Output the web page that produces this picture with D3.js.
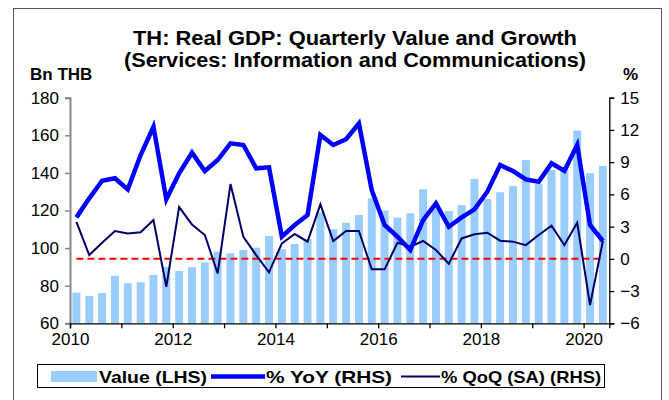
<!DOCTYPE html>
<html><head><meta charset="utf-8">
<script src="https://cdn.jsdelivr.net/npm/d3@7"></script>
<style>
html,body{margin:0;padding:0;background:#fff;}
svg{display:block;font-family:"Liberation Sans",Arial,sans-serif;}
</style></head>
<body><svg id="c" width="669" height="400"></svg>
<script>
const quarters = ["2010Q1","2010Q2","2010Q3","2010Q4","2011Q1","2011Q2","2011Q3","2011Q4",
"2012Q1","2012Q2","2012Q3","2012Q4","2013Q1","2013Q2","2013Q3","2013Q4",
"2014Q1","2014Q2","2014Q3","2014Q4","2015Q1","2015Q2","2015Q3","2015Q4",
"2016Q1","2016Q2","2016Q3","2016Q4","2017Q1","2017Q2","2017Q3","2017Q4",
"2018Q1","2018Q2","2018Q3","2018Q4","2019Q1","2019Q2","2019Q3","2019Q4",
"2020Q1","2020Q2"];
const valueLHS = [76.3,74.5,76.1,85.3,81.3,81.8,85.7,90,87.8,89.8,
92.4,98.1,97.2,99,100.2,106.4,99.4,102.2,104.7,119,
110,113.5,117.6,126.5,120,116.2,118.5,131.3,121,119.7,
122.9,136.8,126.1,129.7,133.1,146.9,134,141.5,143,162.5,
139.8,143.7];
const yoyRHS = [3.86,5.63,7.27,7.5,6.47,9.66,12.3,5.54,7.96,9.88,
8.17,9.2,10.75,10.6,8.43,8.52,2.06,3.15,4.08,11.53,
10.6,11.13,12.6,6.4,3.15,2.06,0.82,3.61,5.17,2.99,
3.86,4.6,6.25,8.73,8.17,7.4,7.18,8.89,8.2,10.6,
3.15,1.66];
const qoqRHS = [3.45,0.35,1.5,2.59,2.37,2.47,3.62,-2.6,4.82,3.2,
2.22,-1.35,6.96,2.06,0.35,-1.26,1.44,2.31,1.6,5.07,
1.66,2.59,2.59,-0.98,-0.98,1.5,1.13,1.66,0.82,-0.45,
1.9,2.28,2.43,1.69,1.6,1.28,2.22,3.08,1.28,3.36,
-4.3,1.66];
const leftTicks = [60,80,100,120,140,160,180];
const rightTicks = [-6,-3,0,3,6,9,12,15];
const yearTicks = [2010,2011,2012,2013,2014,2015,2016,2017,2018,2019,2020];
const yearLabels = [2010,2012,2014,2016,2018,2020];
const titleLines = ["TH: Real GDP: Quarterly Value and Growth","(Services: Information and Communications)"];
const seriesNames = ["Value (LHS)","% YoY (RHS)","% QoQ (SA) (RHS)"];

const svg = d3.select("#c");
const L = 70, R = 609.3, T = 97.7, B = 323.3;

// frame
svg.append("rect").attr("x",13.5).attr("y",8.5).attr("width",648).attr("height",400)
  .attr("fill","none").attr("stroke","#555").attr("stroke-width",1);

const x = d3.scaleBand().domain(quarters).range([L,R]).paddingInner(0.38).paddingOuter(0.19);
const xYear = d3.scaleLinear().domain([2010,2020.5]).range([L,R]);
const yL = d3.scaleLinear().domain([60,180]).range([B,T]);
const yR = d3.scaleLinear().domain([-6,15]).range([B,T]);
const cx = q => x(q) + x.bandwidth()/2;

// bars
svg.append("g").selectAll("rect").data(valueLHS).join("rect")
  .attr("x",(d,i)=>x(quarters[i])).attr("width",x.bandwidth())
  .attr("y",d=>yL(d)).attr("height",d=>yL(60)-yL(d))
  .attr("fill","#99ccff");

// zero dashed line
svg.append("line").attr("x1",cx(quarters[0])).attr("x2",cx(quarters[quarters.length-1]))
  .attr("y1",yR(0)).attr("y2",yR(0))
  .attr("stroke","#ff0000").attr("stroke-width",2).attr("stroke-dasharray","7,4");

const line = d3.line().x((d,i)=>cx(quarters[i])).y(d=>yR(d));
svg.append("path").datum(qoqRHS).attr("d",line).attr("fill","none")
  .attr("stroke","#000066").attr("stroke-width",2).attr("stroke-linejoin","miter");
svg.append("path").datum(yoyRHS).attr("d",line).attr("fill","none")
  .attr("stroke","#0000ff").attr("stroke-width",4.5).attr("stroke-linejoin","miter");

// axes
const FS = 17;
const axL = d3.axisLeft(yL).tickValues(leftTicks).tickSize(5).tickPadding(6);
const gL = svg.append("g").attr("transform",`translate(${L},0)`).call(axL);
gL.select(".domain").attr("stroke","#888").attr("stroke-width",2);
gL.selectAll(".tick line").attr("stroke","#888").attr("stroke-width",1.5);
gL.selectAll("text").attr("font-size",FS).attr("fill","#000").attr("font-family","Liberation Sans, Arial");

const axR = d3.axisRight(yR).tickValues(rightTicks).tickSize(5).tickPadding(6);
const gR = svg.append("g").attr("transform",`translate(${R},0)`).call(axR);
gR.select(".domain").attr("stroke","#000").attr("stroke-width",1.3);
gR.selectAll(".tick line").attr("stroke","#000").attr("stroke-width",1.3);
gR.selectAll("text").attr("font-size",FS).attr("fill","#000").attr("font-family","Liberation Sans, Arial");

const axB = d3.axisBottom(xYear).tickValues(yearTicks).tickSize(5).tickPadding(5)
  .tickFormat(d => yearLabels.includes(d) ? String(d) : "");
const gB = svg.append("g").attr("transform",`translate(0,${B})`).call(axB);
gB.select(".domain").attr("stroke","#000").attr("stroke-width",1.3);
gB.selectAll(".tick line").attr("stroke","#000").attr("stroke-width",1.3);
gB.selectAll("text").attr("font-size",FS).attr("fill","#000").attr("font-family","Liberation Sans, Arial");

// titles
svg.append("text").attr("x",133).attr("y",45)
  .attr("font-size",20).attr("font-weight","bold")
  .attr("textLength",444).attr("lengthAdjust","spacingAndGlyphs").text(titleLines[0]);
svg.append("text").attr("x",124).attr("y",67)
  .attr("font-size",20).attr("font-weight","bold")
  .attr("textLength",462).attr("lengthAdjust","spacingAndGlyphs").text(titleLines[1]);
svg.append("text").attr("x",30).attr("y",80).attr("font-size",FS).attr("font-weight","bold").text("Bn THB");
svg.append("text").attr("x",623).attr("y",80).attr("font-size",FS).attr("font-weight","bold").text("%");

// legend
const lg = svg.append("g");
lg.append("rect").attr("x",37.5).attr("y",364.5).attr("width",567).attr("height",23)
  .attr("fill","#fff").attr("stroke","#000").attr("stroke-width",1);
lg.append("rect").attr("x",51).attr("y",371).attr("width",46).attr("height",11).attr("fill","#99ccff");
lg.append("text").attr("x",99).attr("y",383).attr("font-size",17).attr("font-weight","bold")
  .attr("textLength",108).attr("lengthAdjust","spacingAndGlyphs").text(seriesNames[0]);
lg.append("line").attr("x1",211).attr("x2",265).attr("y1",376.5).attr("y2",376.5)
  .attr("stroke","#0000ff").attr("stroke-width",4.5);
lg.append("text").attr("x",266).attr("y",383).attr("font-size",17).attr("font-weight","bold")
  .attr("textLength",126).attr("lengthAdjust","spacingAndGlyphs").text(seriesNames[1]);
lg.append("line").attr("x1",401).attr("x2",440).attr("y1",376.5).attr("y2",376.5)
  .attr("stroke","#000066").attr("stroke-width",2);
lg.append("text").attr("x",441).attr("y",383).attr("font-size",17).attr("font-weight","bold")
  .attr("textLength",160).attr("lengthAdjust","spacingAndGlyphs").text(seriesNames[2]);
</script></body></html>
